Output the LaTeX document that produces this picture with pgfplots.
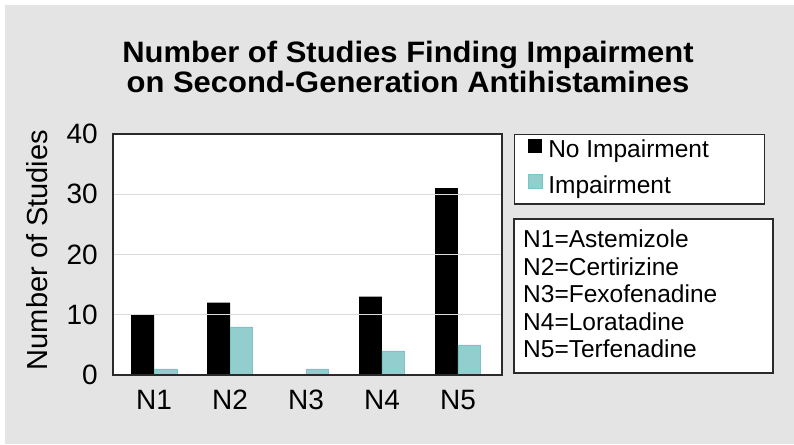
\documentclass[border=0pt]{standalone}
\usepackage{fontspec}
\setmainfont{Liberation Sans}
\usepackage{pgfplots}
\pgfplotsset{compat=1.18}
\definecolor{bg}{HTML}{E4E4E4}
\definecolor{teal1}{HTML}{93CECE}
\definecolor{teal2}{HTML}{78C4C6}
\definecolor{frame}{HTML}{2A2A2A}
\begin{document}
\begin{tikzpicture}[x=1pt,y=1pt]
\fill[white] (0,0) rectangle (794,444);
\fill[bg] (5,0) rectangle (794,439);
\node[anchor=base, font=\fontsize{29.5}{30}\selectfont\bfseries, inner sep=0pt, xscale=1.05] at (408,381) {Number of Studies Finding Impairment};
\node[anchor=base, font=\fontsize{29.5}{30}\selectfont\bfseries, inner sep=0pt, xscale=1.05] at (408,351) {on Second-Generation Antihistamines};
\node[rotate=90, anchor=base, font=\fontsize{29}{30}\selectfont, inner sep=0pt] at (47,194) {Number of Studies};
\begin{axis}[
  at={(113pt,69pt)}, anchor=south west, scale only axis,
  width=389pt, height=241pt,
  xmin=-0.54, xmax=4.58, ymin=0, ymax=40,
  xtick={0,1,2,3,4}, xticklabels={N1,N2,N3,N4,N5},
  ytick={0,10,20,30,40},
  major tick length=0pt,
  ymajorgrids, grid style={gray!28, line width=1pt},
  axis line style={frame, line width=1.6pt},
  axis background/.style={fill=white},
  axis on top,
  tick label style={font=\fontsize{28}{30}\selectfont, inner sep=0pt},
  /pgf/number format/assume math mode=true,
  yticklabel style={xshift=-15pt},
  xticklabel style={yshift=-15pt},
  ybar, bar width=0.3,
  legend style={at={(1,1)}, anchor=north west, xshift=12pt, draw=frame, line width=1.4pt, fill=white,
    inner xsep=13pt, inner ysep=4pt, row sep=9pt, font=\fontsize{24.5}{26}\selectfont,
    cells={anchor=west}, nodes={inner sep=2pt, text height=17pt, text depth=5pt},
    /tikz/every odd column/.append style={column sep=4pt}},
  legend image code/.code={\fill[#1] (0pt,-1pt) rectangle (14pt,13pt);},
]
\addplot[fill=black, draw=none, bar shift=-0.15] coordinates {(0,10) (1,12) (2,0) (3,13) (4,31)};
\addlegendentry{\makebox[201pt][l]{No Impairment}}
\addplot[fill=teal1, draw=teal2, line width=0.6pt, bar shift=0.15] coordinates {(0,1) (1,8) (2,1) (3,4) (4,5)};
\addlegendentry{\makebox[201pt][l]{Impairment}}
\end{axis}
\draw[frame, line width=1.4pt, fill=white] (514,71) rectangle (773,225);
\foreach \t [count=\i from 0] in {N1=Astemizole, N2=Certirizine, N3=Fexofenadine, N4=Loratadine, N5=Terfenadine}
  \node[anchor=base west, inner sep=0pt, font=\fontsize{24.5}{26}\selectfont] at (523,196-27.5*\i) {\t};
\end{tikzpicture}
\end{document}
